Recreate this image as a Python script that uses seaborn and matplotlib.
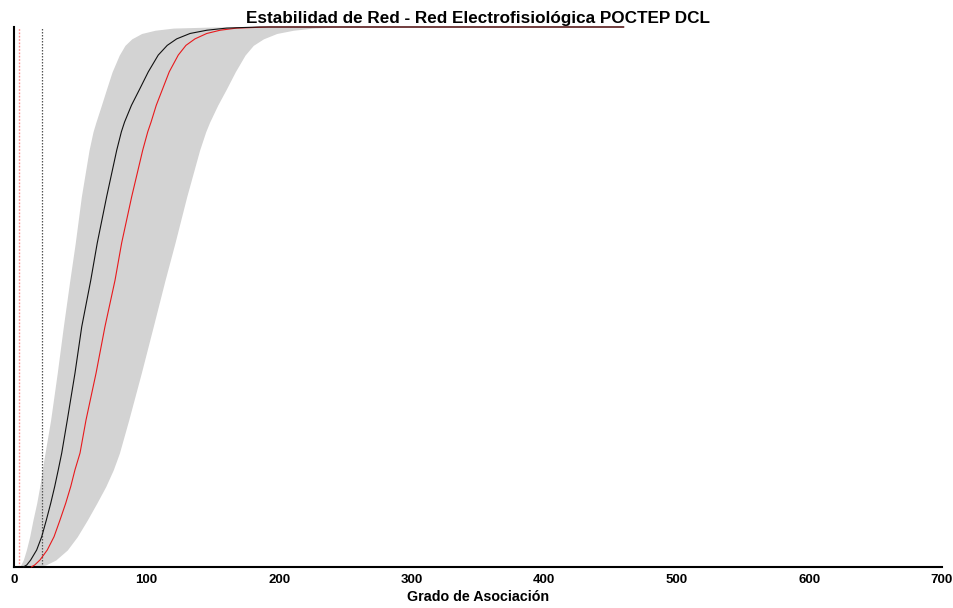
import matplotlib
matplotlib.use("Agg")
import matplotlib.pyplot as plt
import seaborn as sns

# Cumulative fraction levels (y) at which each curve was read
levels = [0.0, 0.0037, 0.013, 0.0315, 0.0561, 0.087, 0.118, 0.149, 0.180,
          0.211, 0.272, 0.359, 0.445, 0.531, 0.600, 0.686, 0.772,
          0.806, 0.824, 0.855, 0.886, 0.917, 0.948, 0.966, 0.978, 0.988,
          0.994, 0.998, 1.0]

# Grado de asociación (x) of each curve at those levels
x_observed = [7.0, 9.6, 12.6, 17.1, 20.9, 24.4, 27.7, 30.7, 33.4,
              36.0, 40.2, 46.0, 51.1, 57.9, 62.8, 69.9, 77.5,
              81.0, 83.4, 88.6, 95.0, 101.3, 108.8, 115.6, 122.7, 132.8,
              145.4, 160.4, 185.0]
x_random = [13.0, 15.6, 19.6, 25.1, 30.2, 34.7, 39.0, 42.8, 46.0,
            49.8, 54.3, 61.9, 68.6, 76.2, 81.2, 88.8, 97.1,
            100.9, 103.4, 107.3, 112.2, 117.1, 123.9, 129.7, 136.5, 145.4,
            155.4, 168.0, 192.0]
band_upper = [4.0, 5.1, 7.0, 9.3, 11.8, 14.3, 17.1, 19.4, 21.3,
              23.4, 27.6, 32.6, 37.2, 42.1, 46.2, 50.8, 56.6,
              59.6, 61.8, 65.9, 69.9, 74.0, 79.4, 83.7, 88.8, 96.3,
              106.4, 120.2, 150.0]
band_lower = [16.0, 23.9, 31.5, 40.2, 47.7, 55.3, 62.4, 69.2, 74.9,
              79.5, 86.5, 96.0, 105.0, 113.9, 121.4, 130.3, 140.0,
              144.6, 147.6, 153.6, 160.4, 166.9, 174.3, 180.5, 188.1, 198.2,
              210.7, 225.8, 245.0]

# curves continue flat at 1 up to the maximum degree
x_max = 460.0

# vertical reference lines
vline_random = 3.8
vline_observed = 21.3

title = "Estabilidad de Red - Red Electrofisiológica POCTEP DCL"
xlabel = "Grado de Asociación"
xticks = [0, 100, 200, 300, 400, 500, 600, 700]

sns.set_style("white")
plt.rcParams['font.family'] = ['Liberation Sans', 'DejaVu Sans']
plt.rcParams['text.color'] = 'black'
plt.rcParams['xtick.color'] = 'black'
plt.rcParams['axes.labelcolor'] = 'black'

fig = plt.figure(figsize=(9.54, 6.08), dpi=100)
ax = fig.add_axes([14/954, 41/608, (942-14)/954, (567-27)/608])

ax.fill_betweenx(levels, band_upper, band_lower, color="#d3d3d3", linewidth=0, zorder=1)

ax.axvline(vline_random, color="#ff8a8a", linestyle=(0, (1.2, 1.2)), linewidth=1.0, zorder=2)
ax.axvline(vline_observed, color="#555555", linestyle=(0, (1.2, 1.2)), linewidth=0.9, zorder=2)

xr = x_random + [x_max]
xo = x_observed + [x_max]
yy = levels + [1.0]
sns.lineplot(x=xr, y=yy, sort=False, estimator=None, color="#e8191c", linewidth=0.8, ax=ax, zorder=3)
sns.lineplot(x=xo, y=yy, sort=False, estimator=None, color="#111111", linewidth=0.8, ax=ax, zorder=4)
for ln in ax.lines:
    ln.set_clip_on(False)

ax.set_xlim(0, 700)
ax.set_ylim(0, 1)
ax.set_xticks(xticks)
ax.set_xticklabels([str(t) for t in xticks], fontsize=9.5, fontweight="bold")
ax.set_yticks([])
ax.tick_params(axis="x", direction="in", length=7, width=1.2, pad=5, color="black")
for s in ["top", "right"]:
    ax.spines[s].set_visible(False)
for s in ["left", "bottom"]:
    ax.spines[s].set_color("black")
    ax.spines[s].set_linewidth(1.5)

ax.set_xlabel(xlabel, fontsize=10.3, fontweight="bold", labelpad=3)
ax.set_ylabel("")
ax.set_title(title, fontsize=12.3, fontweight="bold", pad=3)

fig.savefig("out.png", dpi=100)
